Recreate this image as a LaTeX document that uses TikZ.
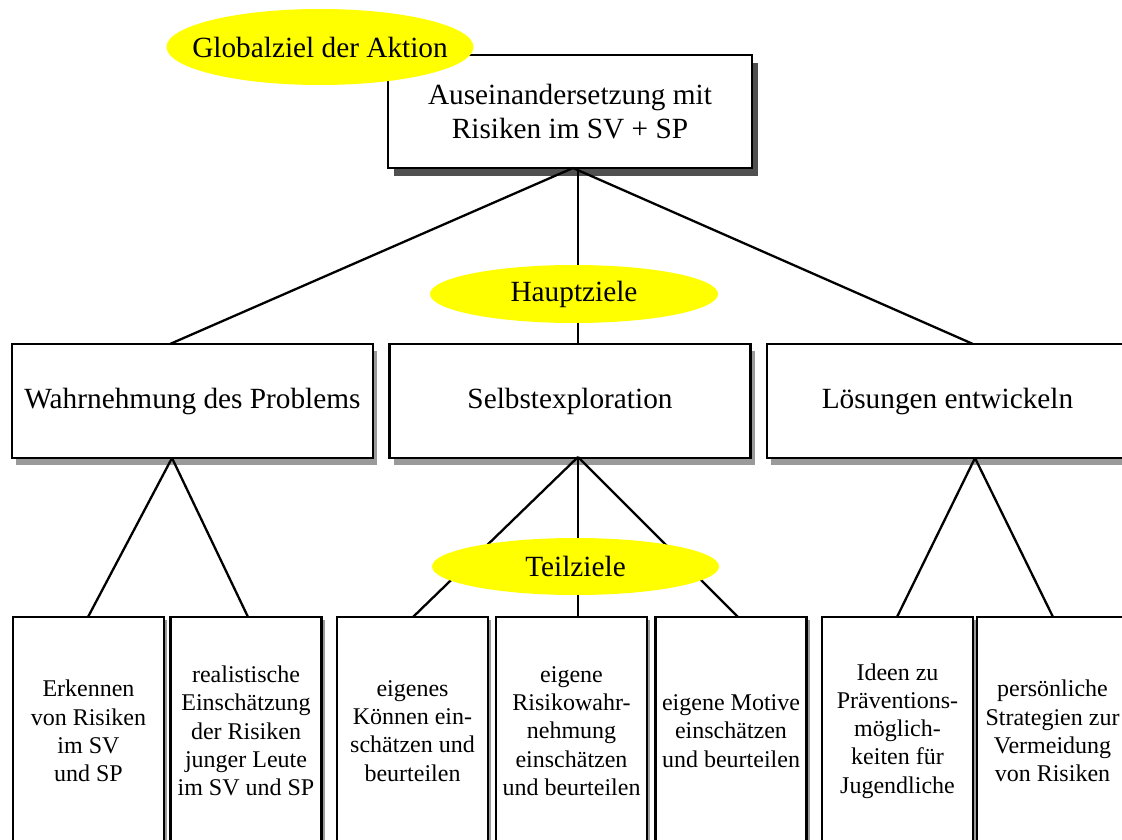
\documentclass[tikz,border=0pt]{standalone}
\usepackage{fontspec}
\setmainfont{Liberation Serif}
\usetikzlibrary{shapes.geometric,shadows}
\definecolor{shadowdark}{HTML}{505050}
\definecolor{shadowlight}{HTML}{9A9A9A}
\definecolor{goalyellow}{HTML}{FFFF00}
\begin{document}
\begin{tikzpicture}[x=1pt,y=-1pt,
  big/.style={font=\fontsize{29.3}{34}\selectfont},
  small/.style={font=\fontsize{24}{28.2}\selectfont},
  topbox/.style={draw, line width=2.4pt, fill=white, inner sep=0pt, align=center, big,
    minimum width=364pt, minimum height=113pt,
    drop shadow={shadow xshift=6pt, shadow yshift=-8pt, fill=shadowdark, opacity=1}},
  midbox/.style={draw, line width=2.4pt, fill=white, inner sep=0pt, align=center, big,
    minimum width=361pt, minimum height=114pt,
    drop shadow={shadow xshift=4pt, shadow yshift=-7pt, fill=shadowlight, opacity=1}},
  lowbox/.style={draw, line width=2.2pt, fill=white, inner sep=0pt, align=center, small,
    minimum width=151pt, minimum height=228pt,
    drop shadow={shadow xshift=3pt, shadow yshift=-3pt, fill=shadowlight, opacity=1}},
  goal/.style={ellipse, fill=goalyellow, inner sep=0pt, big},
  link/.style={line width=2.3pt}
]
\useasboundingbox (0,0) rectangle (1122,840);
\clip (0,0) rectangle (1122,840);

% top box
\node[topbox] (top) at (570,111.5) {Auseinandersetzung mit\\Risiken im SV + SP};

% main goals
\node[midbox] (wahr) at (192.5,401) {Wahrnehmung des Problems};
\node[midbox] (selbst) at (570,401) {Selbstexploration};
\node[midbox] (loes) at (947.5,401) {Lösungen entwickeln};

% sub goals
\node[lowbox] (b1) at (88.5,731) {Erkennen\\von Risiken\\im SV\\und SP};
\node[lowbox] (b2) at (246,731) {realistische\\Einschätzung\\der Risiken\\junger Leute\\im SV und SP};
\node[lowbox] (b3) at (412.5,731) {eigenes\\Können ein-\\schätzen und\\beurteilen};
\node[lowbox] (b4) at (571.5,731) {eigene\\Risikowahr-\\nehmung\\einschätzen\\und beurteilen};
\node[lowbox] (b5) at (731,731) {eigene Motive\\einschätzen\\und beurteilen};
\node[lowbox] (b6) at (897.5,731) {Ideen zu\\Präventions-\\möglich-\\keiten für\\Jugendliche};
\node[lowbox] (b7) at (1052.5,731) {persönliche\\Strategien zur\\Vermeidung\\von Risiken};

% attachment points
\coordinate (tA) at (573,168);
\coordinate (tV) at (578,168);
\coordinate (wT) at (170,344);
\coordinate (sT) at (578,344);
\coordinate (lT) at (973,344);
\coordinate (wB) at (172,458);
\coordinate (sB) at (578,457);
\coordinate (lB) at (975,458);
\coordinate (b1T) at (88,617);
\coordinate (b2T) at (248,617);
\coordinate (b3T) at (413,617);
\coordinate (b4T) at (578,617);
\coordinate (b5T) at (738,617);
\coordinate (b6T) at (897,617);
\coordinate (b7T) at (1053,617);

% connectors
\draw[link] (tA) -- (wT);
\draw[link] (tV) -- (sT);
\draw[link] (tA) -- (lT);
\draw[link] (wB) -- (b1T);
\draw[link] (wB) -- (b2T);
\draw[link] (sB) -- (b3T);
\draw[link] (sB) -- (b4T);
\draw[link] (sB) -- (b5T);
\draw[link] (lB) -- (b6T);
\draw[link] (lB) -- (b7T);

% labels
\node[goal, minimum width=307pt, minimum height=76pt] (global) at (320,47) {\makebox[0pt]{Globalziel der Aktion}};
\node[goal, minimum width=288pt, minimum height=58pt] (haupt) at (574,294) {\makebox[0pt]{Hauptziele}};
\node[goal, minimum width=287pt, minimum height=57pt] (teil) at (575.5,566.5) {\makebox[0pt]{Teilziele}};
\end{tikzpicture}
\end{document}
